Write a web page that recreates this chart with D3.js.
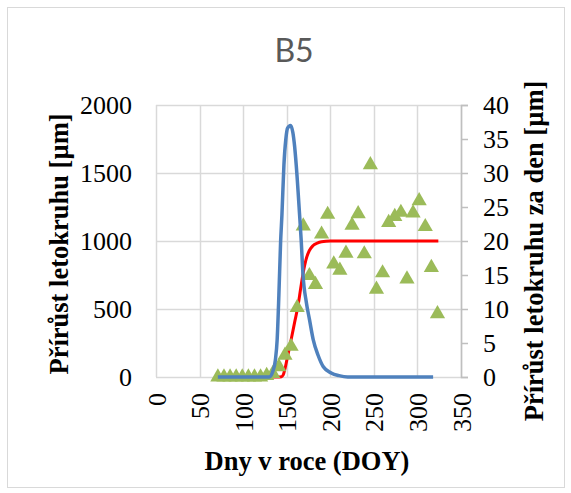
<!DOCTYPE html>
<html><head><meta charset="utf-8">
<script src="https://cdn.jsdelivr.net/npm/d3@7"></script>
<style>body{margin:0;background:#fff}svg{display:block}</style>
</head><body><svg id="c" width="571" height="493"></svg>
<script>
// ---- data ----
const title = "B5";
const xLabel = "Dny v roce (DOY)";
const yLeftLabel = "Přírůst letokruhu [µm]";
const yRightLabel = "Přírůst letokruhu za den [µm]";
const xTicks = [0, 50, 100, 150, 200, 250, 300, 350];
const yLeftTicks = [0, 500, 1000, 1500, 2000];
const yRightTicks = [0, 5, 10, 15, 20, 25, 30, 35, 40];

// measured cumulative increment (triangles), left axis
const obsDoy = [71, 78, 85, 92, 99, 106, 113, 120, 127, 134, 141, 148, 155, 162, 169, 176, 183, 190, 197, 204, 211, 218, 225, 232, 239, 246, 253, 260, 267, 274, 281, 288, 295, 302, 309, 316, 323];
const obsVal = [0, 0, 0, 0, 0, 0, 0, 0, 10, 25, 75, 160, 225, 510, 1110, 745, 680, 1050, 1195, 830, 785, 910, 1115, 1200, 905, 1560, 645, 765, 1135, 1180, 1210, 720, 1205, 1295, 1105, 805, 465];

// fitted cumulative curve (red), left axis
const fitDoy = [71, 130, 140, 144, 146, 148, 150, 152, 155, 159, 163, 166, 169, 172, 176, 180, 185, 190, 200, 250, 324];
const fitVal = [0, 0, 0, 2, 15, 60, 120, 180, 272, 400, 525, 650, 770, 860, 930, 965, 985, 995, 1000, 1000, 1000];

// daily increment curve (blue), right axis
const rateDoy = [71, 130, 134, 137, 139, 141, 143, 144.5, 146.8, 149, 151, 154.4, 157, 159, 160.9, 164.8, 166.7, 168.6, 172.5, 176.2, 180.4, 186, 192, 201, 210, 220, 318];
const rateVal = [0, 0, 0.8, 2.5, 5.4, 12, 19.9, 23.8, 31.2, 35, 36.6, 37, 36, 34, 31.2, 23.8, 19.9, 15.2, 11.0, 8.4, 5.5, 3.2, 1.5, 0.6, 0.2, 0, 0];

// ---- chart ----
const svg = d3.select("#c");
const L = 156, R = 461, T = 105, B = 377;
const x = d3.scaleLinear().domain([0, 350]).range([L, R]);
const yL = d3.scaleLinear().domain([0, 2000]).range([B, T]);
const yR = d3.scaleLinear().domain([0, 40]).range([B, T]);
const serif = "'Liberation Serif','Times New Roman',serif";

svg.append("rect").attr("x", 7.5).attr("y", 7.5).attr("width", 557).attr("height", 480)
  .attr("fill", "#fff").attr("stroke", "#d9d9d9").attr("stroke-width", 1);

svg.append("text").attr("x", 294).attr("y", 62).attr("text-anchor", "middle")
  .attr("font-family", "Lato, 'Open Sans', sans-serif").attr("font-size", 32).attr("fill", "#595959").text(title);

// gridlines
const g = svg.append("g");
g.selectAll(".hg").data(yLeftTicks).join("line")
  .attr("x1", L).attr("x2", R).attr("y1", d => Math.round(yL(d)) + 0.5).attr("y2", d => Math.round(yL(d)) + 0.5)
  .attr("stroke", "#d9d9d9").attr("stroke-width", 1.5);
g.selectAll(".vg").data(xTicks).join("line")
  .attr("y1", T).attr("y2", B).attr("x1", d => Math.round(x(d)) + 0.5).attr("x2", d => Math.round(x(d)) + 0.5)
  .attr("stroke", "#d9d9d9").attr("stroke-width", 1.5);

// right axis
const ra = svg.append("g").attr("transform", `translate(${R},0)`)
  .call(d3.axisRight(yR).tickValues(yRightTicks).tickSize(7).tickPadding(15));
ra.select(".domain").attr("stroke", "#bfbfbf").attr("stroke-width", 1.5);
ra.selectAll(".tick line").attr("stroke", "#bfbfbf").attr("stroke-width", 1.5);
ra.selectAll("text").attr("font-family", serif).attr("font-size", 26).attr("fill", "#000");

// left axis labels
const la = svg.append("g").attr("transform", `translate(${L},0)`)
  .call(d3.axisLeft(yL).tickValues(yLeftTicks).tickFormat(d3.format("d")).tickSize(0).tickPadding(24));
la.select(".domain").remove();
la.selectAll("text").attr("font-family", serif).attr("font-size", 26).attr("fill", "#000");

// x axis labels (rotated)
const xa = svg.append("g").attr("transform", `translate(0,${B})`)
  .call(d3.axisBottom(x).tickValues(xTicks).tickSize(0));
xa.select(".domain").remove();
xa.selectAll("text").attr("font-family", serif).attr("font-size", 26).attr("fill", "#000")
  .attr("text-anchor", "end").attr("transform", "rotate(-90)").attr("x", -16).attr("y", 0).attr("dy", "0.35em");

// red fit
const lineL = d3.line().x(d => x(d[0])).y(d => yL(d[1])).curve(d3.curveMonotoneX);
svg.append("path").datum(d3.zip(fitDoy, fitVal)).attr("d", lineL)
  .attr("fill", "none").attr("stroke", "#ff0000").attr("stroke-width", 3);

// triangles
svg.append("g").selectAll("path").data(d3.zip(obsDoy, obsVal)).join("path")
  .attr("d", d3.symbol(d3.symbolTriangle, 100))
  .attr("transform", d => `translate(${x(d[0])},${yL(d[1])})`)
  .attr("fill", "#9bbb59");

// blue rate
const lineR = d3.line().x(d => x(d[0])).y(d => yR(d[1])).curve(d3.curveMonotoneX);
svg.append("path").datum(d3.zip(rateDoy, rateVal)).attr("d", lineR)
  .attr("fill", "none").attr("stroke", "#4f81bd").attr("stroke-width", 3.5);

// axis titles
svg.append("text").attr("transform", "translate(68,244) rotate(-90)").attr("text-anchor", "middle")
  .attr("font-family", serif).attr("font-weight", "bold").attr("font-size", 26.5).text(yLeftLabel);
svg.append("text").attr("transform", "translate(543,251) rotate(-90)").attr("text-anchor", "middle")
  .attr("font-family", serif).attr("font-weight", "bold").attr("font-size", 26.5).text(yRightLabel);
svg.append("text").attr("x", 307).attr("y", 470).attr("text-anchor", "middle")
  .attr("font-family", serif).attr("font-weight", "bold").attr("font-size", 26.5).text(xLabel);
</script></body></html>
